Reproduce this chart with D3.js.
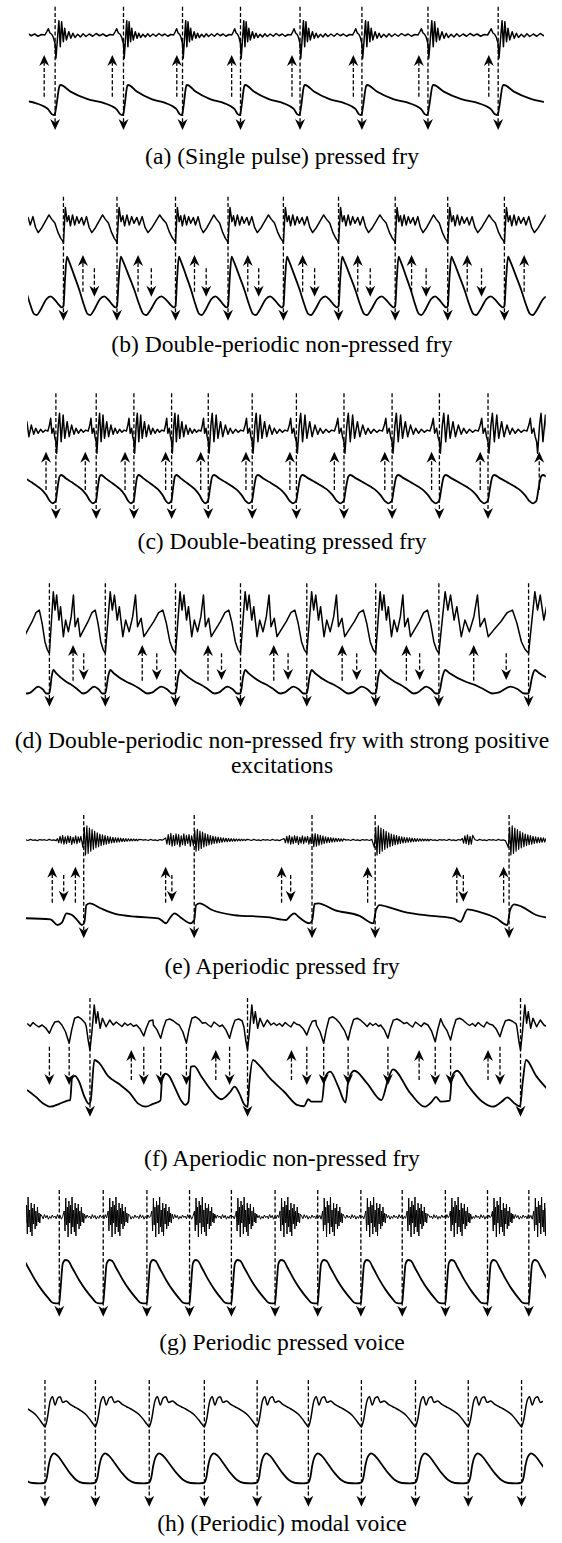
<!DOCTYPE html>
<html>
<head>
<meta charset="utf-8">
<script src="https://cdn.jsdelivr.net/npm/d3@7"></script>
<style>
  html, body { margin: 0; padding: 0; background: #fff; }
  svg { display: block; }
  text { font-family: "Liberation Serif", "Times New Roman", serif; fill: #000; }
</style>
</head>
<body>
<svg id="fig" width="562" height="1543"></svg>
<script>
// ---------------- data (times in ms, waveform values in normalised units) ----------------
const captions = [
  ['(a) (Single pulse) pressed fry'],
  ['(b) Double-periodic non-pressed fry'],
  ['(c) Double-beating pressed fry'],
  ['(d) Double-periodic non-pressed fry with strong positive', 'excitations'],
  ['(e) Aperiodic pressed fry'],
  ['(f) Aperiodic non-pressed fry'],
  ['(g) Periodic pressed voice'],
  ['(h) (Periodic) modal voice']
];

// (a) single pulse pressed fry
const aGci = [11.2, 37.5, 60.2, 82.5, 105.4, 129.2, 154.6, 181.6];
const aUp = [7.0, 33.2, 58.0, 79.1, 102.3, 125.9, 151.1, 178.0];
const aTop = [[0, -0.35], [0.012, -0.93], [0.03, -0.3], [0.055, 0.57], [0.075, -0.47], [0.095, 0.53],
  [0.12, -0.27], [0.14, 0.27], [0.165, -0.2], [0.2, 0.13], [0.23, -0.13], [0.26, 0.07], [0.29, -0.1],
  [0.33, 0.03], [0.37, -0.08], [0.41, 0.05], [0.45, -0.06], [0.5, 0.04], [0.55, -0.05], [0.6, 0.06],
  [0.65, -0.03], [0.7, 0.04], [0.75, -0.05], [0.8, 0.02], [0.85, 0.0], [0.875, 0.12], [0.9, 0.25],
  [0.925, 0.08], [0.95, 0.03], [0.975, -0.1]];
const aLow = [[0, 0.06], [0.02, 0.33], [0.065, 0.97], [0.08, 1.0], [0.225, 0.78], [0.475, 0.53],
  [0.725, 0.39], [0.825, 0.3], [0.9, 0.19], [0.95, 0.03], [0.985, 0.0]];

// (b) double-periodic non-pressed fry
const bGci = [14.4, 35.0, 57.5, 77.7, 99.0, 120.2, 142.0, 162.2, 184.0];
const bUp = [21.9, 43.1, 64.8, 85.3, 106.4, 127.6, 148.3, 169.7, 191.6];
const bSec = [26.3, 48.2, 69.3, 89.5, 111.0, 132.4, 153.9, 175.2];
const bTop = [[0, -1.2], [0.035, 0.95], [0.07, 0.1], [0.1, 0.45], [0.13, -0.15], [0.17, 0.5], [0.21, -0.1],
  [0.25, 0.4], [0.29, 0.0], [0.34, 0.35], [0.38, -0.1], [0.43, 0.4], [0.48, -0.25], [0.53, -0.56],
  [0.6, -0.25], [0.66, 0.1], [0.73, 0.5], [0.78, 0.25], [0.84, 0.02], [0.9, -0.56], [0.95, -0.9], [0.985, -1.05]];
const bLow = [[0, 0.15], [0.03, 0.62], [0.065, 1.0], [0.1, 0.93], [0.2, 0.68], [0.3, 0.42], [0.38, 0.18],
  [0.45, 0.02], [0.5, 0.0], [0.58, 0.1], [0.68, 0.27], [0.76, 0.32], [0.84, 0.26], [0.92, 0.17], [0.97, 0.13]];

// (c) double-beating pressed fry
const cGci = [11.5, 27.0, 41.5, 56.0, 70.1, 87.0, 104.0, 122.3, 140.8, 159.0, 177.7];
const cUp = [7.7, 22.8, 38.1, 53.7, 67.2, 84.6, 101.5, 118.6, 138.0, 156.0, 174.7, 197.4];
const cTop = [[0, -0.5], [0.02, -1.08], [0.06, 0.33], [0.09, 0.92], [0.13, -0.5], [0.18, 0.83], [0.22, -0.33],
  [0.28, 0.5], [0.33, -0.25], [0.39, 0.33], [0.45, -0.13], [0.5, 0.17], [0.56, -0.08], [0.62, 0.12],
  [0.68, -0.03], [0.74, 0.08], [0.8, 0.03], [0.84, 0.33], [0.87, 0.67], [0.9, -0.08], [0.94, 0.17], [0.97, -0.25]];
const cLow = [[0, 0.12], [0.04, 0.53], [0.09, 0.94], [0.13, 1.0], [0.25, 0.88], [0.4, 0.74], [0.55, 0.59],
  [0.67, 0.45], [0.76, 0.29], [0.85, 0.08], [0.92, 0.0], [0.97, 0.04]];

// (d) double-periodic non-pressed fry with strong positive excitations
const dGci = [9.0, 30.5, 57.5, 82.5, 108.0, 134.5, 158.8, 193.3];
const dUp = [18.1, 44.7, 70.0, 95.3, 121.6, 146.3, 172.2];
const dSec = [22.2, 50.3, 75.2, 100.8, 127.2, 151.4, 184.7];
const dTop = [[0, -1.33], [0.03, 0.0], [0.07, 1.75], [0.1, 0.83], [0.13, 1.58], [0.17, 0.33], [0.2, 1.0],
  [0.25, -0.5], [0.29, 0.33], [0.34, -0.25], [0.39, 0.5], [0.43, 1.58], [0.46, 0.0], [0.51, 0.42],
  [0.55, -0.5], [0.61, -0.17], [0.69, 0.25], [0.76, 0.7], [0.82, 0.83], [0.87, 0.17], [0.92, -0.75], [0.96, -1.13]];
const dLow = [[0, 0.12], [0.04, 0.75], [0.07, 1.0], [0.12, 0.88], [0.3, 0.56], [0.4, 0.44], [0.5, 0.28],
  [0.6, 0.12], [0.66, 0.15], [0.8, 0.38], [0.88, 0.28], [0.95, 0.12]];

// (e) aperiodic pressed fry
const eGci = [22.2, 64.7, 110.0, 134.3, 185.8];
const eUp = [10.1, 19.0, 53.7, 98.3, 131.4, 165.7, 183.7];
const eSec = [14.5, 56.1, 101.8, 168.2];
const eRing = [-0.5, 0.85, -1.0, 0.95, -0.9, 0.8, -0.75, 0.7, -0.62, 0.58, -0.52, 0.48, -0.44, 0.4, -0.37,
  0.34, -0.31, 0.29, -0.27, 0.25, -0.23, 0.21, -0.2, 0.18, -0.17, 0.16, -0.15, 0.14, -0.13, 0.12, -0.11,
  0.1, -0.1, 0.09, -0.08, 0.08, -0.07, 0.07, -0.06, 0.06, -0.05, 0.05, -0.05, 0.04];
const eRingAmp = [1.0, 0.75, 0.45, 1.0, 1.0];
const eRingLen = [23, 21, 13, 22, 15];
const eBuzz = [0.3, -0.6, 0.8, -0.7, 1.0, -0.9, 0.7, -0.8, 0.9, -0.6, 0.8, -1.0, 0.6, -0.7, 0.9, -0.8,
  0.7, -0.5, 0.8, -0.9, 0.6];
const eBuzzT = [12.1, 53.7, 99.3, 167.8];
const eBuzzAmp = [0.3, 0.45, 0.3, 0.35];
const eBuzzLen = [9.5, 10.5, 10.5, 4.5];
const eRipple = [0.02, -0.03, 0.04, -0.02, 0.01, -0.04, 0.03, -0.01];
const eLow = [[0, 0.31], [9.4, 0.26], [12.1, 0.0], [13.8, 0.11], [15.6, 0.54], [17.7, 0.46], [19.7, 0.23],
  [21.5, 0.0], [22.5, 0.15], [23.2, 0.92], [24.6, 1.0], [28.7, 0.77], [34.3, 0.51], [42.6, 0.38],
  [50.9, 0.31], [53.9, 0.08], [55.3, 0.31], [57.1, 0.54], [59.9, 0.31], [63.3, 0.08], [64.7, 0.23],
  [65.4, 0.92], [66.8, 1.0], [71.6, 0.69], [79.9, 0.46], [93.8, 0.35], [100.0, 0.23], [101.4, 0.38],
  [103.2, 0.54], [104.8, 0.38], [109.0, 0.08], [110.1, 0.23], [111.0, 0.97], [112.4, 1.0], [118.7, 0.69],
  [128.3, 0.42], [133.6, 0.08], [134.6, 0.69], [136.0, 0.92], [138.7, 0.85], [145.0, 0.62], [156.0, 0.42],
  [164.3, 0.31], [167.1, 0.15], [169.8, 0.72], [174.0, 0.62], [180.9, 0.31], [185.1, 0.0], [186.2, 0.69],
  [187.8, 0.95], [190.6, 0.85], [196.2, 0.46], [200, 0.35]];

// (f) aperiodic non-pressed fry
const fGci = [24.6, 85.2, 190.2];
const fSec = [9.0, 16.6, 45.3, 51.8, 61.7, 78.3, 108.0, 114.5, 123.9, 139.2, 157.4, 163.3, 182.3];
const fUp = [40.5, 73.0, 102.1, 151.2, 177.7];
const fGciTop = [[-1.4, -0.07], [-0.7, -0.6], [0, -1.0], [0.7, -0.33], [1.66, 0.8], [2.35, 0.07], [3.0, 0.53],
  [3.9, -0.13], [4.8, 0.27], [6.2, -0.07], [7.6, 0.2], [9.0, 0]];
const fDip = [[-2.8, 0], [-1.4, -0.37], [0, -1.0], [0.97, -0.27], [2.1, 0.37], [3.5, 0.45], [4.8, 0.32], [6.2, 0.1]];
const fDipDepth = [0.33, 0.73, 0.44, 0.53, 0.73, 0.53, 0.4, 0.73, 0.6, 0.53, 0.67, 0.6, 0.47];
const fRipple = [0.06, -0.05, 0.1, 0.0, -0.08, 0.12, 0.03, -0.06, 0.08, -0.02];
const fLow = [[0.4, 0.36], [3.8, 0.21], [6.6, 0.07], [9.4, 0], [12.8, 0.06], [16.0, 0.13], [17.0, 0.14],
  [17.7, 0.61], [18.8, 0.66], [20.4, 0.54], [22.5, 0.21], [24.2, 0.06], [24.9, 0.14], [26.3, 1.0],
  [28.1, 0.94], [31.5, 0.66], [35.7, 0.49], [39.8, 0.3], [43.3, 0.06], [46.1, 0], [48.8, 0.06], [51.7, 0.13],
  [52.4, 0.64], [53.7, 0.71], [55.0, 0.66], [57.1, 0.43], [59.6, 0.14], [61.3, 0.04], [62.5, 0.11],
  [63.4, 0.86], [64.7, 0.87], [67.5, 0.64], [71.7, 0.32], [75.1, 0.16], [78.6, 0.32], [80.2, 0.43],
  [82.0, 0.29], [83.8, 0.06], [85.2, 0], [85.9, 0.5], [87.3, 1.0], [89.6, 0.89], [93.8, 0.61], [99.3, 0.32],
  [104.2, 0.04], [106.9, 0.01], [108.6, 0.16], [109.7, 0.11], [113.8, 0.11], [114.9, 0.61], [117.0, 0.75],
  [120.1, 0.43], [122.9, 0.09], [124.0, 0.57], [126.3, 0.77], [131.2, 0.5], [136.7, 0.14], [139.2, 0.57],
  [141.1, 0.8], [147.8, 0.29], [153.3, 0], [156.1, 0.11], [157.7, 0.21], [159.5, 0.11], [163.0, 0.13],
  [163.8, 0.64], [165.8, 0.77], [169.9, 0.46], [175.4, 0.11], [179.6, 0], [183.0, 0.11], [185.1, 0.2],
  [187.9, 0.07], [190.0, 0.01], [191.0, 0.5], [192.3, 1.0], [196.2, 0.66], [200.3, 0.39]];

// (g) periodic pressed voice
const gGci = [12.8, 29.7, 46.5, 62.9, 79.0, 95.8, 112.2, 128.8, 144.7, 161.3, 177.5, 193.4];
const gBurst = [0.3, -0.7, 0.95, -0.4, 0.5, -1.0, 0.8, -0.3, 0.6, -0.85, 1.0, -0.5, 0.35, -0.75, 0.7,
  -0.95, 0.45, -0.35, 0.65, -0.6, 0.3, -0.45, 0.5, -0.25, 0.2, -0.3, 0.15];
const gQuiet = [0.05, -0.09, 0.12, -0.04, 0.08, -0.11, 0.03, -0.07, 0.1, -0.03];
const gLow = [[0, 0.02], [0.03, 0.35], [0.08, 0.92], [0.14, 1.0], [0.2, 0.98], [0.3, 0.81], [0.45, 0.54],
  [0.6, 0.31], [0.75, 0.12], [0.84, 0.02], [0.92, 0.0], [0.97, 0.0]];

// (h) periodic modal voice
const hGci = [7.3, 26.7, 47.4, 68.6, 88.9, 108.6, 129.0, 149.8, 170.1, 190.6];
const hTop = [[0, -1.0], [0.04, -0.56], [0.1, 0.67], [0.15, 1.0], [0.2, 0.44], [0.25, 0.89], [0.3, 1.0],
  [0.35, 0.62], [0.42, 0.71], [0.5, 0.49], [0.58, 0.33], [0.66, 0.18], [0.74, 0.0], [0.82, -0.22],
  [0.9, -0.56], [0.96, -0.84]];
const hLow = [[0, 0.03], [0.04, 0.22], [0.07, 0.56], [0.12, 0.89], [0.18, 1.0], [0.25, 0.92], [0.36, 0.67],
  [0.5, 0.33], [0.62, 0.11], [0.75, 0.01], [0.9, 0.0], [0.97, 0.01]];

// ---------------- helpers ----------------
const W = 562, H = 1543;
const x = d3.scaleLinear().domain([0, 200]).range([26, 546]);
const svg = d3.select('#fig');
const defs = svg.append('defs');

// repeat a per-cycle template between consecutive closure instants
function cycleKnots(gci, tmpl) {
  const n = gci.length, pts = [];
  const first = gci[1] - gci[0], last = gci[n - 1] - gci[n - 2];
  const starts = [gci[0] - 2 * first, gci[0] - first, ...gci, gci[n - 1] + last];
  const lens = [first, first, ...gci.slice(1).map((t, i) => t - gci[i]), last, last];
  starts.forEach((s, k) => tmpl.forEach(([ph, v]) => pts.push([s + ph * lens[k], v])));
  return pts;
}

// place event templates on a time line, fill the gaps with a ripple
function eventKnots(events, ripple, step, t0, t1) {
  events.sort((a, b) => a.t - b.t);
  const pts = [];
  let last = t0 - 1, ri = 0;
  const fill = (a, b) => {
    for (let t = a + step; t < b - step * 0.5; t += step) pts.push([t, ripple[ri++ % ripple.length]]);
  };
  events.forEach((e, i) => {
    const next = events[i + 1];
    const limit = next ? next.t + next.knots[0][0] : t1 + 5;
    const ks = e.knots.map(([dt, v]) => [e.t + dt, v]).filter(p => p[0] > last && p[0] < limit);
    if (ks.length) {
      fill(last, ks[0][0]);
      ks.forEach(p => pts.push(p));
      last = ks[ks.length - 1][0];
    }
  });
  fill(last, t1 + step);
  return pts;
}

const seq = (arr, n, step, off, amp) => arr.slice(0, n).map((v, k) => [off + k * step, v * amp]);

// (e) top: ringing after closures, buzz before them
const eTopEvents = [
  ...eGci.map((t, i) => ({ t, knots: seq(eRing, Math.round(eRingLen[i] / 0.5), 0.5, -0.3, eRingAmp[i]) })),
  ...eBuzzT.map((t, i) => ({ t, knots: seq(eBuzz, Math.round(eBuzzLen[i] / 0.5), 0.5, 0, eBuzzAmp[i]) }))
];
// (f) top: dips at secondary excitations, pulse at main closures
const fTopEvents = [
  ...fGci.map(t => ({ t, knots: fGciTop })),
  ...fSec.map((t, i) => ({ t, knots: fDip.map(([dt, v]) => [dt, v * fDipDepth[i]]) }))
];
// (g) top: noisy burst after every closure
const gPrev = gGci[0] - (gGci[1] - gGci[0]);
const gTopEvents = [gPrev, ...gGci].map(t => ({ t, knots: seq(gBurst, gBurst.length, 0.3, 1.9, 1) }));

const linear = d3.curveLinear, smooth = d3.curveMonotoneX;

const panels = [
  { range: [1.1, 199.2], cap: 164,
    top: { pts: cycleKnots(aGci, aTop), cy: 35, k: 25, curve: linear, w: 1.5 },
    low: { pts: cycleKnots(aGci, aLow), y0: 115, y1: 85 },
    arrows: [{ t: aGci, from: 6.7, to: 130 }, { t: aUp, from: 96.7, to: 55 }] },
  { range: [0.8, 199.9], cap: 352,
    top: { pts: cycleKnots(bGci, bTop), cy: 223.3, k: 16.7, curve: linear, w: 1.5 },
    low: { pts: cycleKnots(bGci, bLow), y0: 315, y1: 256.7 },
    arrows: [{ t: bGci, from: 196.7, to: 320.7 }, { t: bUp, from: 291.7, to: 255 }, { t: bSec, from: 268.3, to: 296.7 }] },
  { range: [0.4, 199.9], cap: 549,
    top: { pts: cycleKnots(cGci, cTop), cy: 431.7, k: 20, curve: linear, w: 1.5 },
    low: { pts: cycleKnots(cGci, cLow), y0: 503.3, y1: 475 },
    arrows: [{ t: cGci, from: 393.3, to: 519 }, { t: cUp, from: 490, to: 451.7 }] },
  { range: [0, 200], cap: 748, cap2: 773,
    top: { pts: cycleKnots(dGci, dTop), cy: 626.7, k: 20, curve: linear, w: 1.5 },
    low: { pts: cycleKnots(dGci, dLow), y0: 696.7, y1: 670 },
    arrows: [{ t: dGci, from: 583.3, to: 706.7 }, { t: dUp, from: 680.7, to: 645 }, { t: dSec, from: 653.3, to: 680 }] },
  { range: [0, 200], cap: 974,
    top: { pts: eventKnots(eTopEvents, eRipple, 0.9, 0, 200), cy: 840, k: 15, curve: linear, w: 1.2 },
    low: { pts: eLow, y0: 925, y1: 903.3 },
    arrows: [{ t: eGci, from: 815, to: 938.3 }, { t: eUp, from: 902.7, to: 866.7 }, { t: eSec, from: 875, to: 901.7 }] },
  { range: [0.4, 200], cap: 1166,
    top: { pts: eventKnots(fTopEvents, fRipple, 1.1, 0.4, 200), cy: 1025, k: 25, curve: linear, w: 1.5 },
    low: { pts: fLow, y0: 1106.7, y1: 1060 },
    arrows: [{ t: fGci, from: 998, to: 1116.7 }, { t: fSec, from: 1046.7, to: 1085 }, { t: fUp, from: 1080, to: 1050 }] },
  { range: [0, 200], cap: 1350,
    top: { pts: eventKnots(gTopEvents, gQuiet, 0.5, 0, 200), cy: 1217, k: 20, curve: linear, w: 1.0 },
    low: { pts: cycleKnots(gGci, gLow), y0: 1303.3, y1: 1260 },
    arrows: [{ t: gGci, from: 1190, to: 1316.7 }] },
  { range: [0.8, 198.8], cap: 1531,
    top: { pts: cycleKnots(hGci, hTop), cy: 1411.7, k: 15, curve: smooth, w: 1.5 },
    low: { pts: cycleKnots(hGci, hLow), y0: 1483.3, y1: 1453.3 },
    arrows: [{ t: hGci, from: 1380, to: 1506.7 }] }
];

function drawArrow(g, xp, from, to) {
  const dir = to > from ? 1 : -1;
  const len = 11, half = 5, notch = 7.5;
  g.append('line')
    .attr('x1', xp).attr('x2', xp)
    .attr('y1', from).attr('y2', to - dir * notch)
    .attr('stroke', '#000').attr('stroke-width', 1.3)
    .attr('stroke-dasharray', '4,2.2');
  g.append('path')
    .attr('d', `M${xp},${to}L${xp - half},${to - dir * len}L${xp},${to - dir * notch}L${xp + half},${to - dir * len}Z`)
    .attr('fill', '#000');
}

panels.forEach((p, i) => {
  const g = svg.append('g').attr('class', 'panel');
  const clipId = 'clip' + i;
  defs.append('clipPath').attr('id', clipId).append('rect')
    .attr('x', x(p.range[0])).attr('width', x(p.range[1]) - x(p.range[0]))
    .attr('y', 0).attr('height', H);

  const yTop = d3.scaleLinear().domain([-1, 1]).range([p.top.cy + p.top.k, p.top.cy - p.top.k]);
  const yLow = d3.scaleLinear().domain([0, 1]).range([p.low.y0, p.low.y1]);

  const traces = g.append('g').attr('clip-path', `url(#${clipId})`);
  traces.append('path')
    .attr('d', d3.line().x(d => x(d[0])).y(d => yTop(d[1])).curve(p.top.curve)(p.top.pts))
    .attr('fill', 'none').attr('stroke', '#000').attr('stroke-width', p.top.w)
    .attr('stroke-linejoin', 'round');
  traces.append('path')
    .attr('d', d3.line().x(d => x(d[0])).y(d => yLow(d[1])).curve(smooth)(p.low.pts))
    .attr('fill', 'none').attr('stroke', '#000').attr('stroke-width', 1.8)
    .attr('stroke-linejoin', 'round');

  const ag = g.append('g').attr('class', 'arrows');
  p.arrows.forEach(a => a.t.forEach(t => drawArrow(ag, x(t), a.from, a.to)));

  captions[i].forEach((s, j) => {
    g.append('text')
      .attr('x', 282).attr('y', j === 0 ? p.cap : p.cap2)
      .attr('text-anchor', 'middle')
      .style('font-size', '23.6px')
      .text(s);
  });
});
</script>
</body>
</html>
